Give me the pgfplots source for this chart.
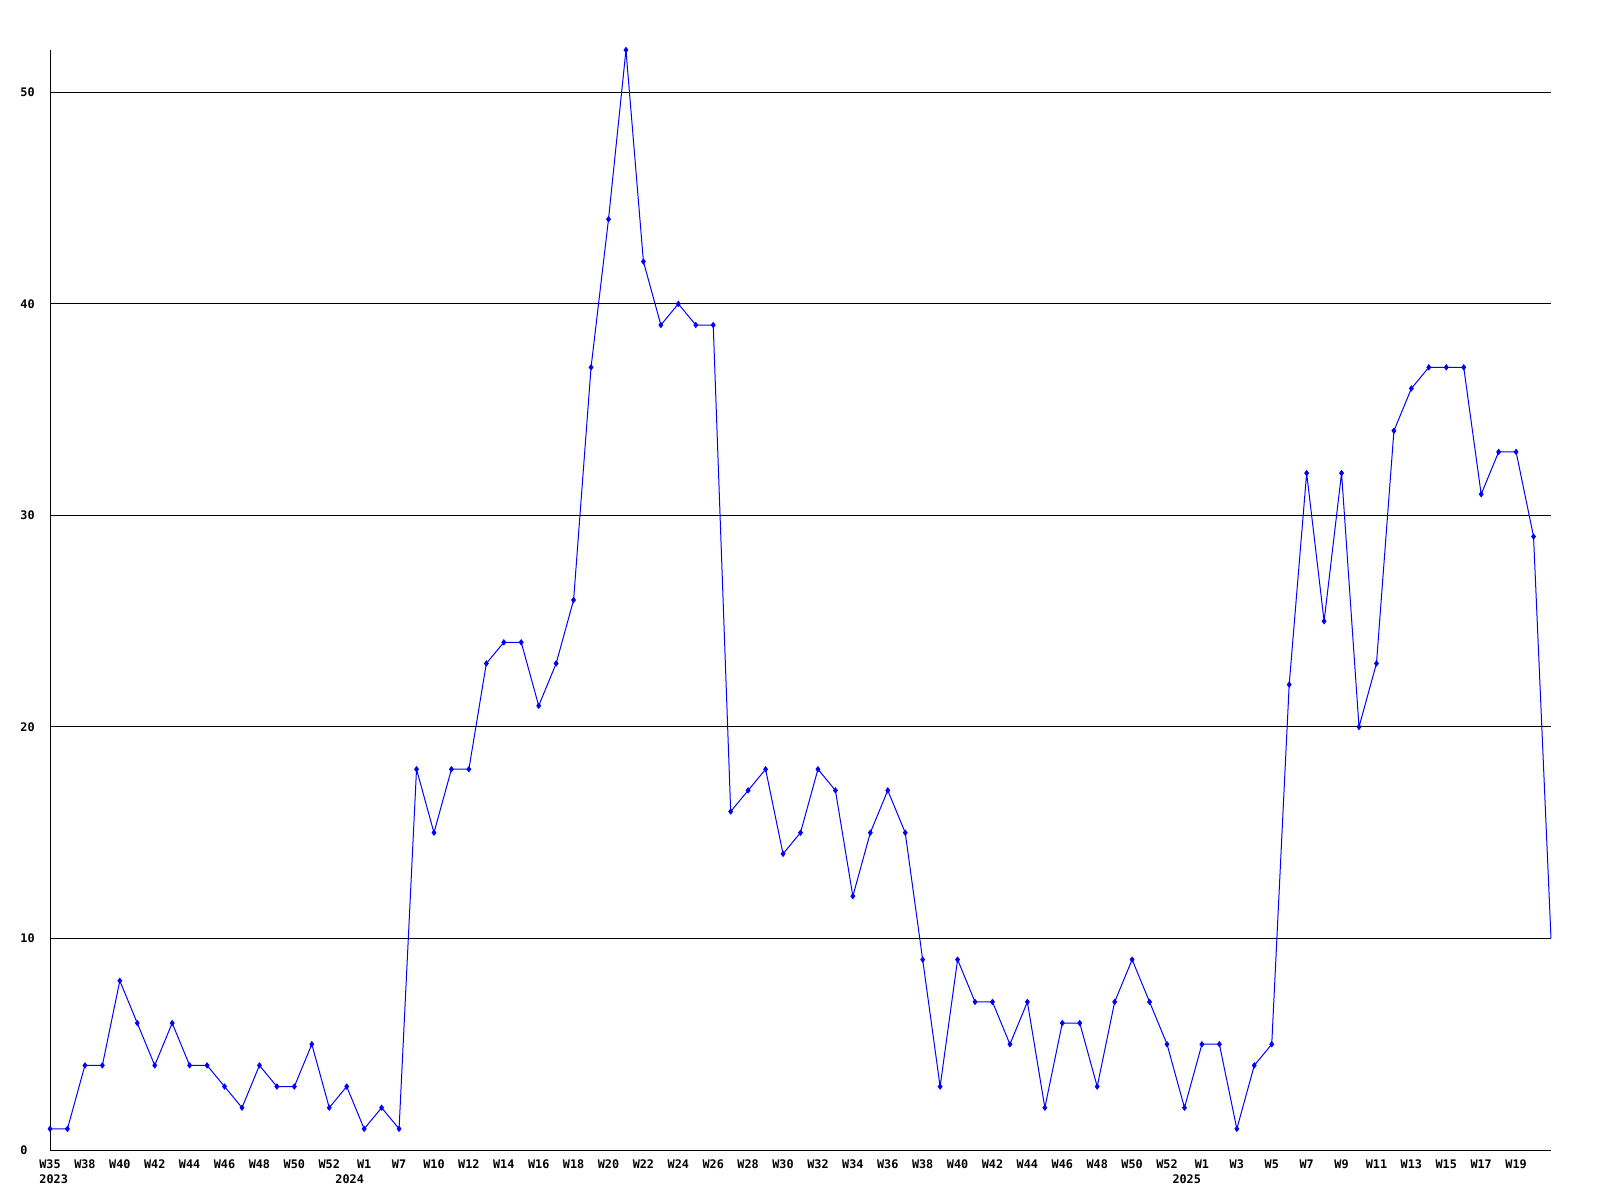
\documentclass[border=0pt]{standalone}
\usepackage{fontspec}
\setmainfont{DejaVu Sans Mono}
\usepackage{pgfplots}
\pgfplotsset{compat=1.18}
\usepackage{pgfplotstable}
\pgfplotstableread{
x y
0 1
1 1
2 4
3 4
4 8
5 6
6 4
7 6
8 4
9 4
10 3
11 2
12 4
13 3
14 3
15 5
16 2
17 3
18 1
19 2
20 1
21 18
22 15
23 18
24 18
25 23
26 24
27 24
28 21
29 23
30 26
31 37
32 44
33 52
34 42
35 39
36 40
37 39
38 39
39 16
40 17
41 18
42 14
43 15
44 18
45 17
46 12
47 15
48 17
49 15
50 9
51 3
52 9
53 7
54 7
55 5
56 7
57 2
58 6
59 6
60 3
61 7
62 9
63 7
64 5
65 2
66 5
67 5
68 1
69 4
70 5
71 22
72 32
73 25
74 32
75 20
76 23
77 34
78 36
79 37
80 37
81 37
82 31
83 33
84 33
85 29
86 10
}\datatable
\begin{document}
\begin{tikzpicture}
\useasboundingbox (0,0) rectangle (800pt,600pt);
\begin{axis}[
  at={(25pt,25pt)}, anchor=south west,
  scale only axis, width=750.5pt, height=550pt,
  xmin=0, xmax=86, ymin=0, ymax=52,
  clip=false,
  axis x line=bottom, axis y line=left,
  axis line style={-, black, line width=0.5pt},
  major tick length=0pt,
  xtick={0,2,...,84},
  xticklabels={W35,W38,W40,W42,W44,W46,W48,W50,W52,W1,W7,W10,W12,W14,W16,W18,W20,W22,W24,W26,W28,W30,W32,W34,W36,W38,W40,W42,W44,W46,W48,W50,W52,W1,W3,W5,W7,W9,W11,W13,W15,W17,W19},
  ytick={0,10,20,30,40,50},
  ymajorgrids, grid style={black, line width=0.5pt},
  /pgf/number format/assume math mode=true,
  ticklabel style={font=\fontsize{5.9}{6}\selectfont\bfseries, inner sep=0pt},
  xticklabel style={anchor=base, yshift=-9.3pt},
  yticklabel style={anchor=west, xshift=-15pt},
]
\addplot[blue, line width=0.5pt, no marks] table[x=x, y=y] {\datatable};
\addplot[blue, only marks, mark=diamond*, mark size=1.3pt, mark options={fill=blue, draw=blue}, restrict x to domain=0:85] table[x=x, y=y] {\datatable};
\node[anchor=base, inner sep=0pt, font=\fontsize{5.9}{6}\selectfont\bfseries, yshift=-16.7pt] at (axis cs:0.21,0) {2023};
\node[anchor=base, inner sep=0pt, font=\fontsize{5.9}{6}\selectfont\bfseries, yshift=-16.7pt] at (axis cs:17.17,0) {2024};
\node[anchor=base, inner sep=0pt, font=\fontsize{5.9}{6}\selectfont\bfseries, yshift=-16.7pt] at (axis cs:65.13,0) {2025};
\end{axis}
\end{tikzpicture}
\end{document}
